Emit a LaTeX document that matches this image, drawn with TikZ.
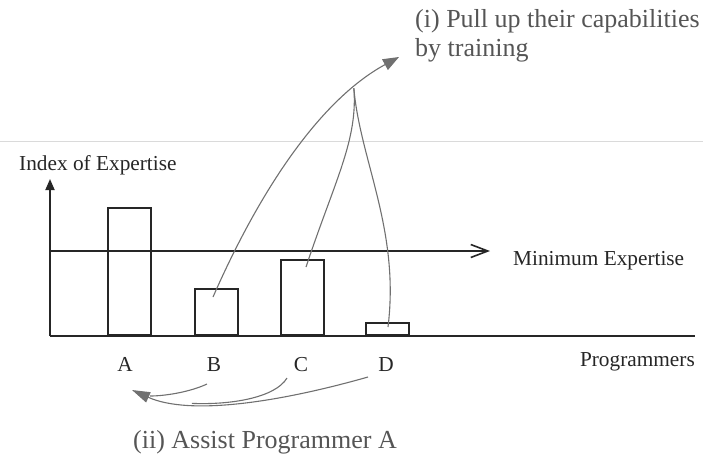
\documentclass[tikz,border=0pt]{standalone}
\usepackage{fontspec}
\setmainfont{Liberation Serif}
\usetikzlibrary{arrows.meta}
\definecolor{txtgray}{HTML}{555555}
\definecolor{curvegray}{HTML}{707070}
\definecolor{faint}{HTML}{DADADA}
\tikzset{
  axisline/.style={draw=black!85, line width=1.8pt},
  barbox/.style={draw=black!85, line width=2pt, inner sep=0pt, minimum width=43pt, anchor=south west},
  flow/.style={draw=curvegray, line width=1.1pt},
  lbl/.style={font=\fontsize{21.3}{25}\selectfont, text=black!85, inner sep=0pt},
  note/.style={font=\fontsize{26}{29}\selectfont, text=txtgray, inner sep=0pt},
}
\begin{document}
\begin{tikzpicture}[x=1pt,y=-1pt]
\useasboundingbox (0,0) rectangle (703,456);
% faint horizontal rule
\draw[faint, line width=1pt] (0,141) -- (703,141);
% axes
\coordinate (O) at (50,336);
\coordinate (ytop) at (50,179);
\coordinate (xend) at (695,336);
\coordinate (mstart) at (50,251);
\coordinate (mend) at (490,251);
\draw[axisline, -{Triangle[length=11pt,width=9pt]}] (O) -- (ytop);
\draw[axisline] (O) -- (xend);
\draw[axisline, line width=1.6pt, -{Straight Barb[length=17pt,width=13pt,line width=1.6pt]}] (mstart) -- (mend);
% bars
\node[barbox, minimum height=127pt] (barA) at (107,336) {};
\node[barbox, minimum height=46pt] (barB) at (194,336) {};
\node[barbox, minimum height=75pt] (barC) at (280,336) {};
\node[barbox, minimum height=12pt] (barD) at (365,336) {};
% labels
\node[lbl, anchor=base west] (yl) at (19,170) {Index of Expertise};
\node[lbl, anchor=base west] (ml) at (513,265) {Minimum Expertise};
\node[lbl, anchor=base east] (xl) at (695,366) {Programmers};
\node[lbl, anchor=base] (lA) at (125,371) {A};
\node[lbl, anchor=base] (lB) at (214,371) {B};
\node[lbl, anchor=base] (lC) at (301,371) {C};
\node[lbl, anchor=base] (lD) at (386,371) {D};
% notes
\node[note, anchor=base west, align=left] (n1) at (415,56) {(i) Pull up their capabilities\\by training};
\node[note, anchor=base west] (n2) at (133,448) {(ii) Assist Programmer A};
% upper curves
\coordinate (sB) at (213,297);
\coordinate (sC) at (306,267);
\coordinate (sD) at (388,327);
\coordinate (T1) at (399,57);
\draw[flow, -{Triangle[length=16pt,width=12pt]}] (sB) .. controls (260,190) and (320,100) .. coordinate[pos=0.8] (J) (T1);
\draw[flow] (sC) .. controls (335,180) and (358,140) .. (J);
\draw[flow] (sD) .. controls (400,230) and (360,160) .. (J);
% lower curves
\coordinate (bB) at (207,384);
\coordinate (bC) at (287,378);
\coordinate (bD) at (368,377);
\coordinate (T2) at (132,390);
\draw[flow, -{Triangle[length=18pt,width=11pt]}] (bD) .. controls (280,402) and (190,416) .. coordinate[pos=0.7] (M) (T2);
\draw[flow] (bC) .. controls (275,398) and (230,405) .. (M);
\draw[flow] (bB) .. controls (190,392) and (165,396) .. (150,396);
\end{tikzpicture}
\end{document}
